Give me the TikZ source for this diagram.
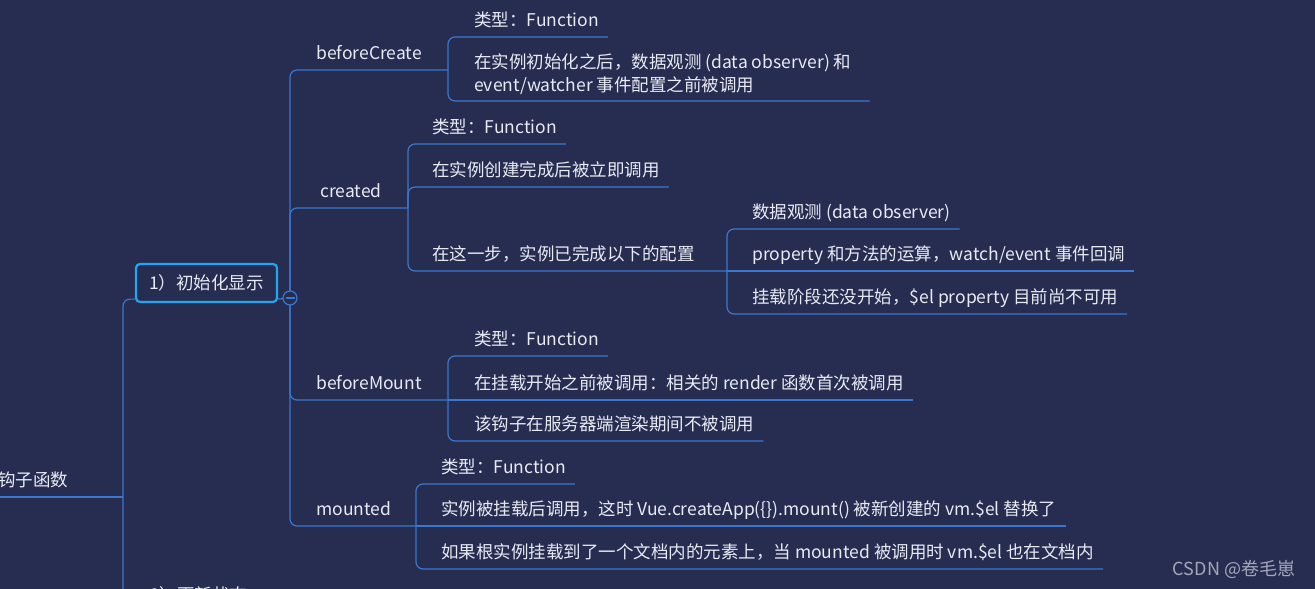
\documentclass[tikz,border=0pt]{standalone}
\usepackage{fontspec}
\setmainfont{Noto Sans CJK SC}
\definecolor{mapbg}{HTML}{262D51}
\definecolor{mapline}{HTML}{3A78CF}
\definecolor{maptext}{HTML}{E8EBF4}
\definecolor{mapsel}{HTML}{1FA8F0}
\definecolor{mapmark}{HTML}{A3A7B8}
\newcommand{\mapfont}{\fontsize{17.5}{23}\selectfont}
\tikzset{
  tbase/.style={anchor=south west, inner xsep=0pt, inner ysep=6pt, text=maptext, font=\mapfont},
  topic/.style={tbase, text height=14pt, text depth=4pt},
  note/.style={tbase, align=left},
  selbox/.style={draw=mapsel, line width=2.2pt, rounded corners=4pt, minimum width=141pt, minimum height=38pt, text=maptext, font=\mapfont},
  link/.style={draw=mapline, line width=1.2pt, rounded corners=7pt},
  fold/.style={circle, draw=mapline, fill=mapbg, line width=1.2pt, minimum size=14pt, inner sep=0pt},
  wmark/.style={text=mapmark, font=\fontsize{18}{20}\selectfont}
}
\begin{document}
\begin{tikzpicture}[x=1pt,y=-1pt]
            \useasboundingbox (0,0) rectangle (1315,589);
            \clip (0,0) rectangle (1315,589);
            \fill[mapbg] (0,0) rectangle (1315,589);

            \node[topic] (hook) at (-2,497) {钩子函数};
            \node[selbox] (init) at (206.5,283) {1）初始化显示};
            \node[topic] (upd) at (150,612) {2）更新状态};
            \coordinate (hookbus) at (123,497);
            \draw[link] (hook.south west) -- (hookbus);
            \draw[link] (hookbus) |- ([yshift=4pt]init.south west);
            \draw[link] (hookbus) |- (upd.south east);

            \coordinate (hub) at (290,298);
            \draw[link] ([yshift=4pt]init.south east) -- (hub);

            \node[topic] (bcreate) at (316,70) {beforeCreate};
            \node[topic] (created) at (320,208) {created};
            \node[topic] (bmount) at (316,400) {beforeMount};
            \node[topic] (mounted) at (316,526) {mounted};
            \coordinate (bcbus) at (448,70);
            \coordinate (crbus) at (408,208);
            \coordinate (bmbus) at (448,400);
            \coordinate (mtbus) at (416,526);
            \draw[link] (hub) |- (bcreate.south east) -- (bcbus);
            \draw[link] (hub) |- (created.south east) -- (crbus);
            \draw[link] (hub) |- (bmount.south east) -- (bmbus);
            \draw[link] (hub) |- (mounted.south east) -- (mtbus);
            \node[fold] (fold) at (hub) {};
            \draw[mapline, line width=1.2pt] ([xshift=-4.5pt]fold.center) -- ([xshift=4.5pt]fold.center);

            \node[topic] (bc1) at (474,37) {类型：Function};
            \node[note] (bc2) at (474,101) {在实例初始化之后，数据观测 (data observer) 和\\event/watcher 事件配置之前被调用};
            \draw[link] (bcbus) |- ([xshift=9pt]bc1.south east);
            \draw[link] (bcbus) |- ([xshift=18pt]bc2.south east);

            \node[topic] (cr1) at (432,144) {类型：Function};
            \node[topic] (cr2) at (432,187) {在实例创建完成后被立即调用};
            \node[topic] (cr3) at (432,271) {在这一步，实例已完成以下的配置};
            \coordinate (cr3bus) at (727,271);
            \draw[link] (crbus) |- ([xshift=9pt]cr1.south east);
            \draw[link] (crbus) |- ([xshift=9pt]cr2.south east);
            \draw[link] (crbus) |- (cr3.south east) -- (cr3bus);

            \node[topic] (cf1) at (752,229) {数据观测 (data observer)};
            \node[topic] (cf2) at (752,271) {property 和方法的运算，watch/event 事件回调};
            \node[topic] (cf3) at (752,314) {挂载阶段还没开始，\$el property 目前尚不可用};
            \draw[link] (cr3bus) |- ([xshift=9pt]cf1.south east);
            \draw[link] (cr3bus) -- ([xshift=9pt]cf2.south east);
            \draw[link] (cr3bus) |- ([xshift=9pt]cf3.south east);

            \node[topic] (bm1) at (474,356) {类型：Function};
            \node[topic] (bm2) at (474,400) {在挂载开始之前被调用：相关的 render 函数首次被调用};
            \node[topic] (bm3) at (474,441) {该钩子在服务器端渲染期间不被调用};
            \draw[link] (bmbus) |- ([xshift=9pt]bm1.south east);
            \draw[link] (bmbus) -- ([xshift=9pt]bm2.south east);
            \draw[link] (bmbus) |- ([xshift=9pt]bm3.south east);

            \node[topic] (mt1) at (441,484) {类型：Function};
            \node[topic] (mt2) at (441,526) {实例被挂载后调用，这时 Vue.createApp(\{\}).mount() 被新创建的 vm.\$el 替换了};
            \node[topic] (mt3) at (441,569) {如果根实例挂载到了一个文档内的元素上，当 mounted 被调用时 vm.\$el 也在文档内};
            \draw[link] (mtbus) |- ([xshift=9pt]mt1.south east);
            \draw[link] (mtbus) -- ([xshift=9pt]mt2.south east);
            \draw[link] (mtbus) |- ([xshift=9pt]mt3.south east);

            \node[wmark] (csdn) at (1234,569) {CSDN @卷毛崽};
        \end{tikzpicture}
\end{document}
